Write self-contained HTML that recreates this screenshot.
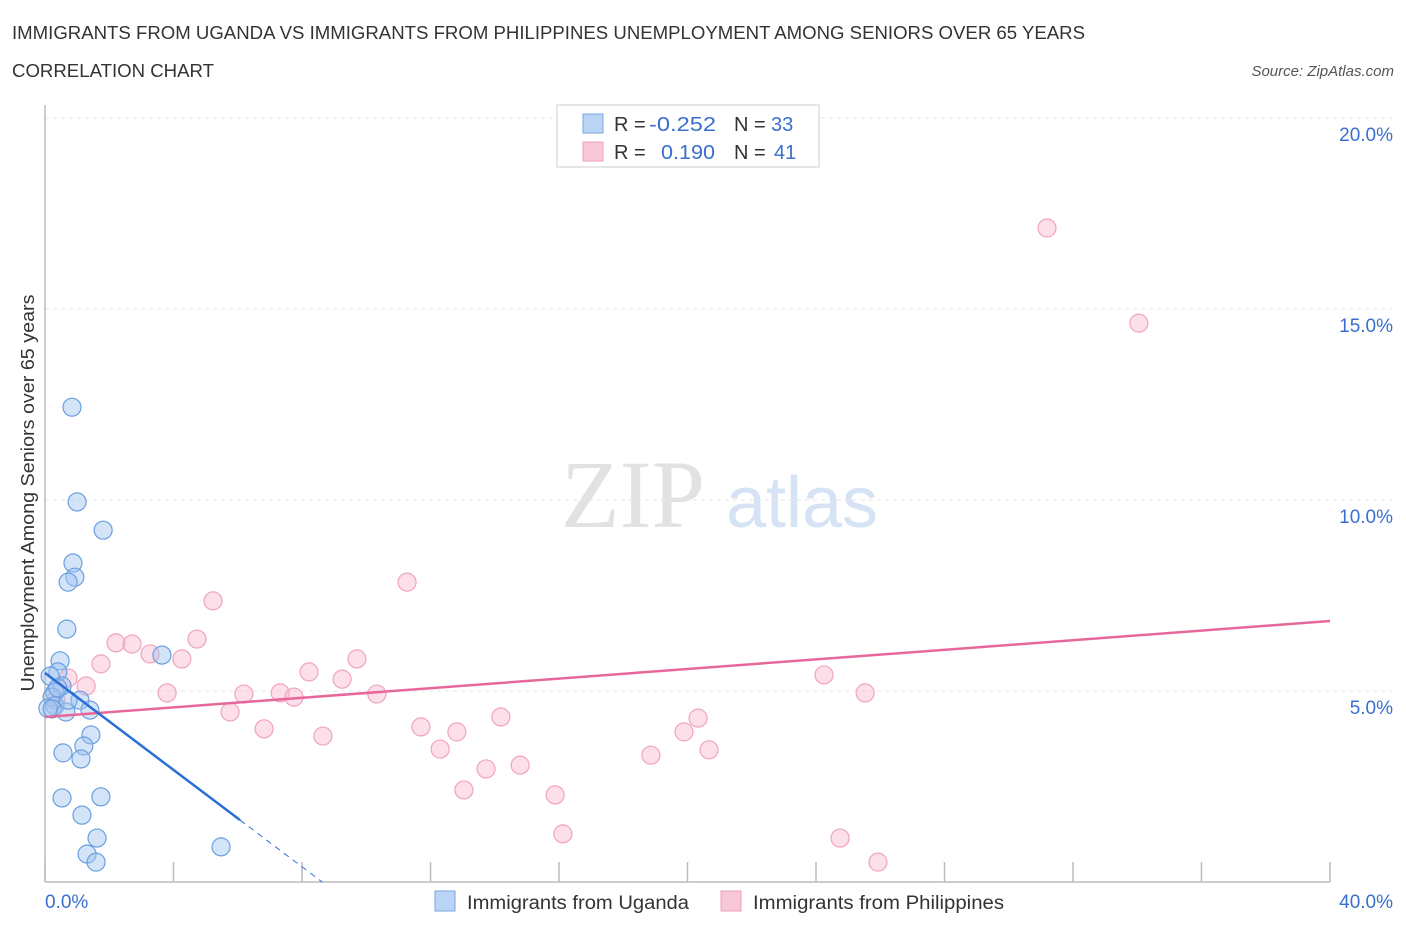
<!DOCTYPE html>
<html><head><meta charset="utf-8"><style>
body{margin:0;background:#fff;font-family:"Liberation Sans",sans-serif;}
svg text{font-family:"Liberation Sans",sans-serif;}
</style></head><body>
<svg id="chart" width="1406" height="930" xmlns="http://www.w3.org/2000/svg">
<text x="12" y="39" font-size="18" fill="#333" textLength="1073" lengthAdjust="spacingAndGlyphs">IMMIGRANTS FROM UGANDA VS IMMIGRANTS FROM PHILIPPINES UNEMPLOYMENT AMONG SENIORS OVER 65 YEARS</text>
<text x="12" y="77" font-size="18" fill="#333" textLength="202" lengthAdjust="spacingAndGlyphs">CORRELATION CHART</text>
<text x="1394" y="76" font-size="15" fill="#555" font-style="italic" text-anchor="end">Source: ZipAtlas.com</text>
<g>
<text x="633" y="527" font-size="96" fill="#e2e2e2" text-anchor="middle" font-family="Liberation Serif,serif" style="font-family:'Liberation Serif',serif">ZIP</text>
<text x="802" y="527" font-size="72" fill="#d5e3f5" text-anchor="middle">atlas</text>
</g>
<g id="grid"></g>
<g id="axes"></g>
<g id="points"></g>
<g id="lines"></g>
<text transform="translate(34,493) rotate(-90)" font-size="18" fill="#333" text-anchor="middle" textLength="397" lengthAdjust="spacingAndGlyphs">Unemployment Among Seniors over 65 years</text>
<g>
<rect x="557" y="105" width="262" height="62" fill="#fff" stroke="#ccc"/>
<rect x="583" y="114" width="20" height="19" fill="#b9d4f5" stroke="#7aa6e0"/>
<rect x="583" y="142" width="20" height="19" fill="#f9c8d6" stroke="#eea0b8"/>
<text x="614" y="131" font-size="20" fill="#333">R =</text>
<text x="649" y="131" font-size="20" fill="#3a6fd0" textLength="67" lengthAdjust="spacingAndGlyphs">-0.252</text>
<text x="734" y="131" font-size="20" fill="#333">N =</text>
<text x="771" y="131" font-size="20" fill="#3a6fd0">33</text>
<text x="614" y="159" font-size="20" fill="#333">R =</text>
<text x="661" y="159" font-size="20" fill="#3a6fd0" textLength="54" lengthAdjust="spacingAndGlyphs">0.190</text>
<text x="734" y="159" font-size="20" fill="#333">N =</text>
<text x="774" y="159" font-size="20" fill="#3a6fd0">41</text>
</g>
<g>
<rect x="435" y="891" width="20" height="20" fill="#b9d4f5" stroke="#7aa6e0"/>
<text x="467" y="909" font-size="19" fill="#333" textLength="222" lengthAdjust="spacingAndGlyphs">Immigrants from Uganda</text>
<rect x="721" y="891" width="20" height="20" fill="#f9c8d6" stroke="#eea0b8"/>
<text x="753" y="909" font-size="19" fill="#333" textLength="251" lengthAdjust="spacingAndGlyphs">Immigrants from Philippines</text>
</g>
</svg>
<script>
const xTicks=[0,4,8,12,16,20,24,28,32,36,40];
const yTicks=[5,10,15,20];
const yTickLabels=["5.0%","10.0%","15.0%","20.0%"];
const xEndLabels=["0.0%","40.0%"];
const ugandaX=[0.84,1.0,1.81,0.87,0.93,0.72,0.68,3.64,0.47,0.40,0.16,0.53,0.31,0.22,0.31,0.09,0.22,0.65,1.09,1.40,1.43,1.21,0.56,1.12,0.53,1.74,1.15,1.62,1.31,1.59,5.48,0.72,0.40];
const ugandaY=[12.43,9.95,9.21,8.35,7.98,7.85,6.62,5.94,5.79,5.50,5.39,5.13,4.97,4.84,4.61,4.55,4.53,4.45,4.76,4.50,3.85,3.56,3.38,3.22,2.20,2.23,1.75,1.15,0.73,0.52,0.92,4.76,5.08];
const philX=[31.19,34.05,11.27,5.23,4.73,2.21,2.71,3.27,1.74,4.26,8.22,9.71,9.25,0.72,1.28,3.80,6.19,7.32,7.75,10.33,5.76,6.82,8.65,11.70,12.82,12.30,14.19,13.73,14.79,13.04,15.88,16.12,18.86,19.89,20.33,20.67,24.25,25.53,24.75,25.93,0.34];
const philY=[17.12,14.63,7.85,7.36,6.36,6.26,6.23,5.97,5.71,5.84,5.50,5.84,5.31,5.34,5.13,4.95,4.92,4.95,4.84,4.92,4.45,4.01,3.82,4.06,3.93,3.48,4.32,2.96,3.06,2.41,2.28,1.26,3.32,3.93,4.29,3.46,5.42,4.95,1.15,0.52,4.76];
const ugandaTrend=[5.47,-0.634]; // intercept, slope
const philTrend=[4.32,0.0628];

const NS="http://www.w3.org/2000/svg";
const sx=v=>45+v*32.125;
const sy=v=>882-v*38.2;
function mk(tag,attrs,parent){const e=document.createElementNS(NS,tag);for(const k in attrs)e.setAttribute(k,attrs[k]);parent.appendChild(e);return e;}
const grid=document.getElementById('grid'),axes=document.getElementById('axes'),pts=document.getElementById('points'),lines=document.getElementById('lines');
yTicks.forEach((t,i)=>{
 const l=mk('line',{x1:45,x2:1394,y1:sy(t),y2:sy(t),stroke:'#e6e6e6','stroke-dasharray':'4,4'},grid);
 
 
 const tx=mk('text',{x:1393,y:sy(t)+23,'font-size':19,fill:'#3a6fd0','text-anchor':'end'},axes);
 tx.textContent=yTickLabels[i];
 
 
});
const yl=mk('line',{x1:45,x2:45,y1:105,y2:882,stroke:'#bbb','stroke-width':1.5},axes);


const xl=mk('line',{x1:45,x2:1330,y1:882,y2:882,stroke:'#bbb','stroke-width':1.5},axes);


xTicks.forEach(t=>{
 const l=mk('line',{x1:sx(t),x2:sx(t),y1:862,y2:882,stroke:'#bbb','stroke-width':1.5},axes);
 
 
});
const x0=mk('text',{x:45,y:908,'font-size':19,fill:'#3a6fd0'},axes);x0.textContent=xEndLabels[0];


const x1=mk('text',{x:1393,y:908,'font-size':19,fill:'#3a6fd0','text-anchor':'end'},axes);x1.textContent=xEndLabels[1];


philX.forEach((x,i)=>{
 const c=mk('circle',{cx:sx(x),cy:sy(philY[i]),r:9,fill:'rgba(248,185,205,0.45)',stroke:'#f0a4bc','stroke-width':1.2},pts);
 
 
});
ugandaX.forEach((x,i)=>{
 const c=mk('circle',{cx:sx(x),cy:sy(ugandaY[i]),r:9,fill:'rgba(160,196,240,0.45)',stroke:'#6a9fe0','stroke-width':1.2},pts);
 
 
});
const pl=mk('line',{x1:sx(0),y1:sy(philTrend[0]),x2:sx(40),y2:sy(philTrend[0]+40*philTrend[1]),stroke:'#e8679a','stroke-width':2.5},lines);


const xs=6.07,xz=-ugandaTrend[0]/ugandaTrend[1];
const ul=mk('line',{x1:sx(0),y1:sy(ugandaTrend[0]),x2:sx(xs),y2:sy(ugandaTrend[0]+xs*ugandaTrend[1]),stroke:'#2a6fd6','stroke-width':2.5},lines);


const ud=mk('line',{x1:sx(xs),y1:sy(ugandaTrend[0]+xs*ugandaTrend[1]),x2:sx(xz),y2:sy(0),stroke:'#2a6fd6','stroke-width':1,'stroke-dasharray':'6,5'},lines);


</script>
</body></html>
